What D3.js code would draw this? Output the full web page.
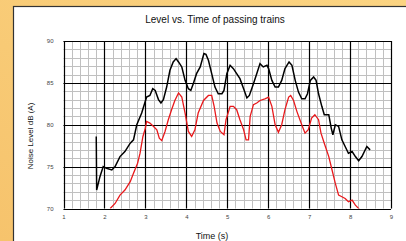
<!DOCTYPE html>
<html>
<head>
<meta charset="utf-8">
<script src="https://cdn.jsdelivr.net/npm/d3@7"></script>
<style>
  html, body { margin: 0; padding: 0; overflow: hidden; }
  body { width: 406px; height: 241px; }
  text { font-family: "Liberation Sans", Arial, sans-serif; }
</style>
</head>
<body>
<div id="chart"></div>
<script>
// upper trace (black): time (s), level dB(A)
const blackT = [1.80, 1.81, 1.89, 1.97, 2.05, 2.18, 2.26, 2.38, 2.50, 2.63, 2.71, 2.79, 2.91, 3.03, 3.11, 3.18, 3.24, 3.32, 3.38, 3.44, 3.52, 3.60, 3.68, 3.75, 3.81, 3.89, 3.97, 4.05, 4.11, 4.17, 4.25, 4.34, 4.43, 4.48, 4.54, 4.62, 4.70, 4.78, 4.87, 4.92, 4.99, 5.07, 5.15, 5.23, 5.31, 5.40, 5.48, 5.54, 5.64, 5.72, 5.80, 5.88, 5.97, 6.01, 6.09, 6.17, 6.25, 6.33, 6.41, 6.51, 6.58, 6.66, 6.74, 6.82, 6.90, 6.96, 7.03, 7.11, 7.17, 7.23, 7.31, 7.37, 7.48, 7.54, 7.58, 7.64, 7.72, 7.80, 7.88, 7.96, 8.05, 8.13, 8.21, 8.29, 8.41, 8.49];
const blackDb = [78.6, 72.2, 73.8, 75.0, 74.8, 74.6, 75.0, 76.2, 76.8, 77.8, 78.2, 80.0, 81.4, 83.3, 83.5, 84.3, 84.1, 83.0, 82.6, 83.0, 84.5, 86.5, 87.5, 87.9, 87.5, 86.9, 85.3, 84.3, 84.1, 84.9, 86.1, 86.9, 88.5, 88.4, 87.7, 86.1, 84.5, 83.7, 83.7, 84.1, 86.1, 87.1, 86.7, 86.1, 85.5, 84.3, 83.2, 83.5, 84.9, 86.1, 87.3, 86.9, 87.1, 86.7, 85.3, 84.5, 84.5, 85.3, 86.7, 87.5, 87.1, 85.3, 83.9, 83.1, 83.1, 83.7, 85.3, 85.7, 85.3, 83.7, 82.2, 81.2, 81.2, 79.6, 78.8, 80.0, 79.8, 78.2, 77.4, 76.6, 76.8, 76.2, 75.7, 76.2, 77.4, 77.0];

// lower trace (red)
const redT = [2.14, 2.26, 2.38, 2.50, 2.63, 2.71, 2.81, 2.87, 2.94, 3.00, 3.03, 3.11, 3.20, 3.28, 3.34, 3.40, 3.48, 3.56, 3.64, 3.72, 3.81, 3.89, 3.97, 4.05, 4.13, 4.21, 4.29, 4.42, 4.54, 4.62, 4.68, 4.75, 4.83, 4.92, 4.97, 5.07, 5.15, 5.23, 5.31, 5.40, 5.46, 5.52, 5.56, 5.64, 5.72, 5.80, 5.92, 6.01, 6.09, 6.17, 6.25, 6.33, 6.41, 6.50, 6.55, 6.62, 6.70, 6.82, 6.90, 6.98, 7.06, 7.14, 7.23, 7.29, 7.37, 7.48, 7.56, 7.64, 7.72, 7.80, 7.88, 7.96, 8.05, 8.13, 8.23];
const redDb = [70.0, 70.6, 71.6, 72.2, 73.2, 74.2, 75.4, 76.6, 78.6, 79.6, 80.4, 80.2, 79.8, 79.4, 78.4, 78.1, 79.2, 80.6, 81.8, 82.9, 83.8, 83.3, 81.4, 79.2, 78.6, 79.4, 81.4, 82.9, 83.5, 83.5, 82.2, 80.2, 79.2, 78.8, 80.6, 82.2, 82.2, 81.8, 80.6, 79.4, 78.2, 78.2, 81.0, 82.4, 82.6, 82.9, 83.1, 83.3, 82.2, 80.0, 79.1, 80.0, 81.8, 83.3, 83.5, 82.9, 81.6, 80.0, 79.0, 79.4, 80.8, 81.2, 80.6, 79.0, 77.8, 76.2, 74.6, 73.0, 71.6, 71.4, 71.2, 70.8, 71.0, 70.4, 69.9];

const xTicks = [1, 2, 3, 4, 5, 6, 7, 8, 9];
const yTicks = [70, 75, 80, 85, 90];

const W = 406, H = 241;
const svg = d3.select("#chart").append("svg")
  .attr("width", W).attr("height", H);

const defs = svg.append("defs");
const grad = defs.append("linearGradient").attr("id", "bg")
  .attr("x1", "0").attr("y1", "1").attr("x2", "1").attr("y2", "0");
grad.append("stop").attr("offset", "0").attr("stop-color", "#f6c36c");
grad.append("stop").attr("offset", "1").attr("stop-color", "#fbd482");

svg.append("rect").attr("width", W).attr("height", H).attr("fill", "url(#bg)");
// white panel with dark edge
svg.append("rect").attr("x", 13.5).attr("y", 6.5)
  .attr("width", W).attr("height", H)
  .attr("fill", "#fff").attr("stroke", "#333").attr("stroke-width", 1.2);

const x = d3.scaleLinear().domain([1, 9]).range([63.5, 391]);
const y = d3.scaleLinear().domain([70, 90]).range([208.5, 41]);

const plot = svg.append("g");

// minor grid
const minorX = d3.range(1, 9.001, 0.2).map(v => +v.toFixed(1));
const minorY = d3.range(70, 90.001, 1);
plot.selectAll("line.mx").data(minorX).enter().append("line")
  .attr("x1", d => Math.round(x(d)) + 0.5).attr("x2", d => Math.round(x(d)) + 0.5)
  .attr("y1", y(90)).attr("y2", y(70))
  .attr("stroke", "#c0c0c0").attr("stroke-width", 1);
plot.selectAll("line.my").data(minorY).enter().append("line")
  .attr("y1", d => Math.round(y(d)) + 0.5).attr("y2", d => Math.round(y(d)) + 0.5)
  .attr("x1", x(1)).attr("x2", x(9))
  .attr("stroke", "#c0c0c0").attr("stroke-width", 1);

// major grid
plot.selectAll("line.Mx").data(xTicks).enter().append("line")
  .attr("x1", d => Math.round(x(d)) + 0.5).attr("x2", d => Math.round(x(d)) + 0.5)
  .attr("y1", y(90)).attr("y2", y(70))
  .attr("stroke", "#000").attr("stroke-width", 1.2);
plot.selectAll("line.My").data(yTicks).enter().append("line")
  .attr("y1", d => Math.round(y(d)) + 0.5).attr("y2", d => Math.round(y(d)) + 0.5)
  .attr("x1", x(1)).attr("x2", x(9))
  .attr("stroke", "#000").attr("stroke-width", 1.2);

defs.append("clipPath").attr("id", "clip").append("rect")
  .attr("x", x(1)).attr("y", y(90)).attr("width", x(9) - x(1)).attr("height", y(70) - y(90));

const line = d3.line().x(d => x(d[0])).y(d => y(d[1])).curve(d3.curveLinear);
const g = svg.append("g").attr("clip-path", "url(#clip)");
g.append("path").datum(redT.map((t, i) => [t, redDb[i]]))
  .attr("d", line).attr("fill", "none").attr("stroke", "#e8191c").attr("stroke-width", 1.3);
g.append("path").datum(blackT.map((t, i) => [t, blackDb[i]]))
  .attr("d", line).attr("fill", "none").attr("stroke", "#000").attr("stroke-width", 1.5);

// axes labels
const xAxis = d3.axisBottom(x).tickValues(xTicks).tickSize(0).tickPadding(6).tickFormat(d3.format("d"));
const yAxis = d3.axisLeft(y).tickValues(yTicks).tickSize(0).tickPadding(10).tickFormat(d3.format("d"));
const gx = svg.append("g").attr("transform", `translate(0,${y(70)})`).call(xAxis);
const gy = svg.append("g").attr("transform", `translate(${x(1)},0)`).call(yAxis);
[gx, gy].forEach(a => {
  a.select(".domain").remove();
  a.selectAll("text").attr("font-size", 6).attr("fill", "#444")
    .attr("font-family", "'Liberation Sans', Arial, sans-serif");
});

svg.append("text").attr("x", 215).attr("y", 23).attr("text-anchor", "middle")
  .attr("font-size", 10).attr("fill", "#111").text("Level vs. Time of passing trains");
svg.append("text").attr("x", 212).attr("y", 239).attr("text-anchor", "middle")
  .attr("font-size", 9).attr("fill", "#111").text("Time (s)");
svg.append("text").attr("transform", "translate(33,136) rotate(-90)")
  .attr("text-anchor", "middle").attr("font-size", 8).attr("fill", "#111")
  .text("Noise Level dB (A)");
</script>
</body>
</html>
